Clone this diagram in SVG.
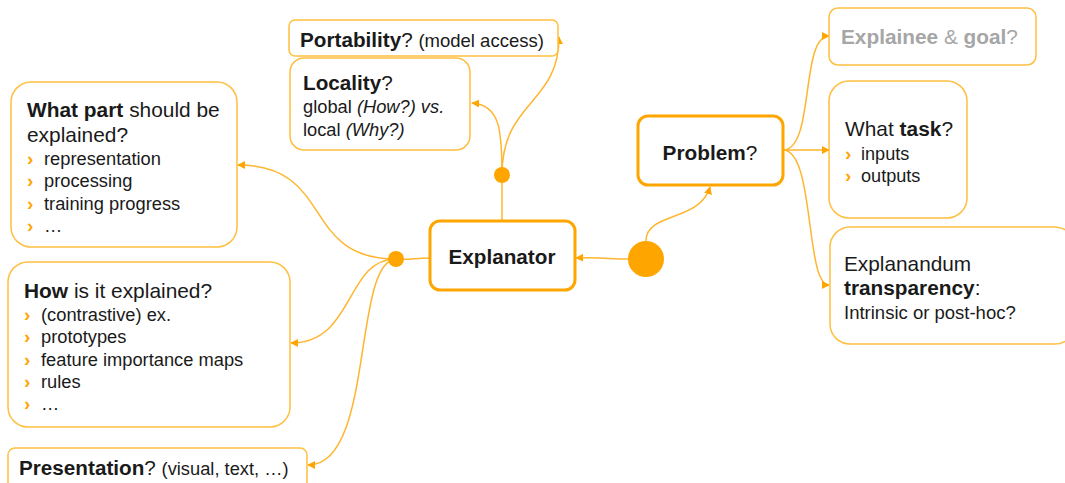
<svg xmlns="http://www.w3.org/2000/svg" width="1065" height="483" viewBox="0 0 1065 483">
<defs>
<style>
text{font-family:"Liberation Sans",Arial,sans-serif;fill:#1a1a1a;}
.box{fill:#fff;stroke:#FFBF40;stroke-width:1.5;}
.main{fill:#fff;stroke:#FFA500;stroke-width:3;}
.con{fill:none;stroke:#FFB52E;stroke-width:1.5;}
.dot{fill:#FFA500;}
.b{font-weight:bold;}
.bul{fill:#FFA500;font-weight:bold;font-size:19px;}
.gray{fill:#a6a6a6;}
</style>
<marker id="arr" viewBox="0 0 10 10" refX="9" refY="5" markerWidth="8" markerHeight="8" markerUnits="userSpaceOnUse" orient="auto">
<path d="M0,0 L10,5 L0,10 z" fill="#FFA500"/>
</marker>
</defs>
<g id="connectors">
<path class="con" d="M628,259 C610,259 600,257 576,258" marker-end="url(#arr)"/>
<path class="con" d="M646,241 C646,212 700,222 710,187" marker-end="url(#arr)"/>
<path class="con" d="M502,221 L502,175"/>
<path class="con" d="M502,175 C502,130 500,105 472,103" marker-end="url(#arr)"/>
<path class="con" d="M502,175 C502,100 559,105 559,37" marker-end="url(#arr)"/>
<path class="con" d="M430,258 C415,258 410,260 396,259"/>
<path class="con" d="M396,259 C300,259 335,165 238,165" marker-end="url(#arr)"/>
<path class="con" d="M396,259 C345,259 355,343 291,343" marker-end="url(#arr)"/>
<path class="con" d="M396,259 C352,262 375,465 308,465" marker-end="url(#arr)"/>
<path class="con" d="M783,150 C815,150 800,36 829,36" marker-end="url(#arr)"/>
<path class="con" d="M783,150 L829,150" marker-end="url(#arr)"/>
<path class="con" d="M783,150 C815,150 805,285 829,285" marker-end="url(#arr)"/>
</g>
<g id="dots">
<circle class="dot" cx="646" cy="259" r="18"/>
<circle class="dot" cx="502" cy="175" r="8"/>
<circle class="dot" cx="396" cy="259" r="8"/>
</g>
<g id="portability">
<rect class="box" x="289" y="20" width="269" height="36" rx="6"/>
<text x="300" y="47" font-size="20.7"><tspan class="b">Portability</tspan>? <tspan font-size="18.5">(model access)</tspan></text>
</g>
<g id="locality">
<rect class="box" x="290" y="58" width="180" height="92" rx="14"/>
<text x="303" y="90" font-size="20.7"><tspan class="b">Locality</tspan>?</text>
<text x="303" y="113" font-size="18.3">global <tspan font-style="italic">(How?) vs.</tspan></text>
<text x="303" y="136" font-size="18.3">local <tspan font-style="italic">(Why?)</tspan></text>
</g>
<g id="whatpart">
<rect class="box" x="11" y="82" width="226" height="165" rx="20"/>
<text x="27" y="117" font-size="20.9"><tspan class="b">What part</tspan> should be</text>
<text x="27" y="142" font-size="20.9">explained?</text>
<g font-size="18.3">
<text x="27" y="165" class="bul">›</text><text x="44" y="165">representation</text>
<text x="27" y="187" class="bul">›</text><text x="44" y="187">processing</text>
<text x="27" y="210" class="bul">›</text><text x="44" y="210">training progress</text>
<text x="27" y="232" class="bul">›</text><text x="44" y="232">…</text>
</g>
</g>
<g id="how">
<rect class="box" x="8" y="262" width="282" height="165" rx="20"/>
<text x="24" y="298" font-size="20.9"><tspan class="b">How</tspan> is it explained?</text>
<g font-size="18.3">
<text x="24" y="321" class="bul">›</text><text x="41" y="321">(contrastive) ex.</text>
<text x="24" y="343" class="bul">›</text><text x="41" y="343">prototypes</text>
<text x="24" y="366" class="bul">›</text><text x="41" y="366">feature importance maps</text>
<text x="24" y="388" class="bul">›</text><text x="41" y="388">rules</text>
<text x="24" y="410" class="bul">›</text><text x="41" y="410">…</text>
</g>
</g>
<g id="presentation">
<rect class="box" x="8" y="448" width="299" height="45" rx="7"/>
<text x="19" y="475" font-size="20.7"><tspan class="b">Presentation</tspan>? <tspan font-size="18.3">(visual, text, …)</tspan></text>
</g>
<g id="explanator">
<rect class="main" x="430" y="221" width="145" height="69" rx="10"/>
<text x="502" y="264" font-size="20.7" class="b" text-anchor="middle">Explanator</text>
</g>
<g id="problem">
<rect class="main" x="638" y="116" width="145" height="69" rx="10"/>
<text x="710" y="160" font-size="20.8" text-anchor="middle"><tspan class="b">Problem</tspan>?</text>
</g>
<g id="explainee">
<rect class="box" x="829" y="8" width="207" height="57" rx="9"/>
<text x="841" y="44" font-size="20.8" class="gray"><tspan class="b">Explainee</tspan> &amp; <tspan class="b">goal</tspan>?</text>
</g>
<g id="task">
<rect class="box" x="829" y="81" width="138" height="137" rx="20"/>
<text x="845" y="136" font-size="20.9">What <tspan class="b">task</tspan>?</text>
<g font-size="18.1">
<text x="845" y="160" class="bul">›</text><text x="861" y="160">inputs</text>
<text x="845" y="182" class="bul">›</text><text x="861" y="182">outputs</text>
</g>
</g>
<g id="explanandum">
<rect class="box" x="830" y="227" width="245" height="117" rx="20"/>
<text x="844" y="271" font-size="20.8">Explanandum</text>
<text x="844" y="295" font-size="20.8"><tspan class="b">transparency</tspan>:</text>
<text x="844" y="319" font-size="18.5">Intrinsic or post-hoc?</text>
</g>
</svg>
